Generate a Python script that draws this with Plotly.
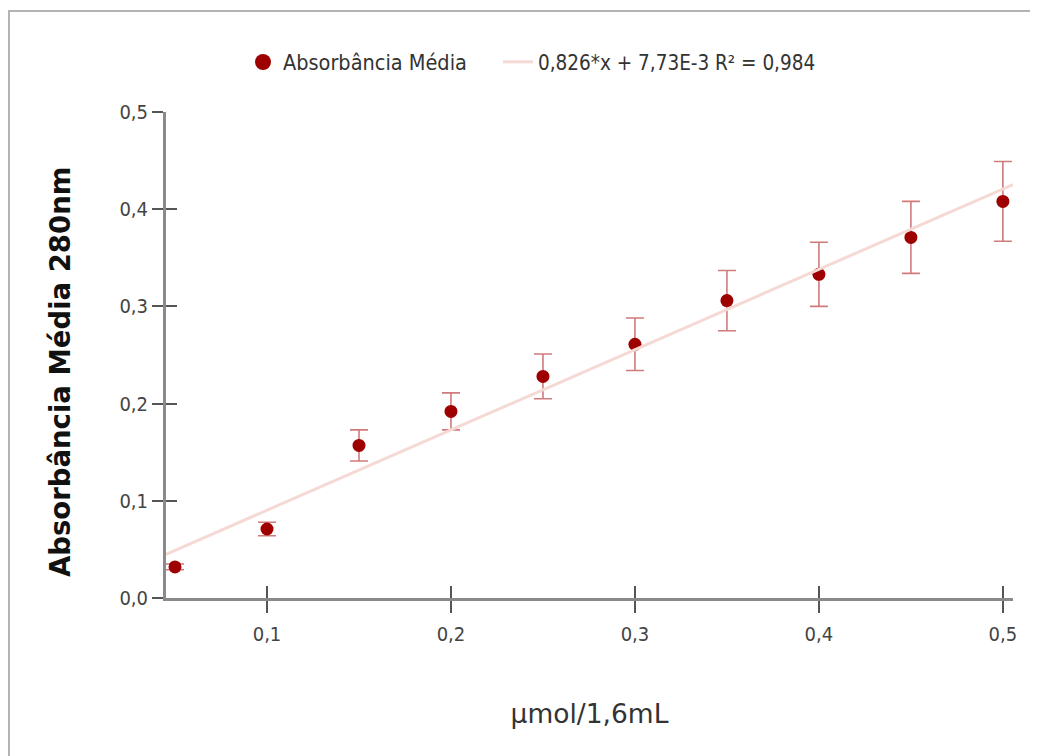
import plotly.graph_objects as go

# Data
conc = [0.05, 0.10, 0.15, 0.20, 0.25, 0.30, 0.35, 0.40, 0.45, 0.50]
absorb = [0.032, 0.071, 0.157, 0.192, 0.228, 0.261, 0.306, 0.333, 0.371, 0.408]
err = [0.003, 0.007, 0.016, 0.019, 0.023, 0.027, 0.031, 0.033, 0.037, 0.041]

slope = 0.826
intercept = 7.73e-3
fit_label = "0,826*x + 7,73E-3 R² = 0,984"
series_label = "Absorbância Média"

x_tickvals = [0.1, 0.2, 0.3, 0.4, 0.5]
y_tickvals = [0.0, 0.1, 0.2, 0.3, 0.4, 0.5]

xr = [0.0451, 0.5055]
yr = [0.0, 0.5]

fit_x = [xr[0], xr[1]]
fit_y = [slope * v + intercept for v in fit_x]

COND = "DejaVu Sans Condensed, Liberation Sans Narrow, sans-serif"
REG = "DejaVu Sans, sans-serif"
MARKER_RED = "#9e0000"

fig = go.Figure()
fig.add_trace(go.Scatter(
    x=conc, y=absorb, mode="markers", name=series_label, showlegend=False,
    marker=dict(color=MARKER_RED, size=13),
    error_y=dict(type="data", array=err, visible=True, color="#cf7b7b",
                 thickness=1.6, width=9),
))
# legend entry for the series (larger legend symbol, draws nothing)
fig.add_trace(go.Scatter(
    x=[None], y=[None], mode="markers", name=series_label, legend="legend",
    marker=dict(color=MARKER_RED, size=17),
))
fig.add_trace(go.Scatter(
    x=fit_x, y=fit_y, mode="lines", name=fit_label, legend="legend2",
    line=dict(color="#f5d9d4", width=3),
))
# invisible trace for the inner tick axes
fig.add_trace(go.Scatter(x=[conc[0]], y=[absorb[0]], xaxis="x2", yaxis="y2",
                         mode="markers", marker=dict(opacity=0), showlegend=False,
                         hoverinfo="skip"))

W, H = 1038, 756
L, R, T, B = 158, 33, 104, 166
pw = W - L - R
ph = H - T - B
pb = H - B  # plot bottom in figure px

def px_x(p):
    return (p - L) / pw

def px_y(p):
    return (pb - p) / ph

fig.update_layout(
    width=W, height=H,
    margin=dict(l=L, r=R, t=T, b=B),
    paper_bgcolor="white", plot_bgcolor="white",
    separators=",.",
    font=dict(family=COND, size=20, color="#444"),
    showlegend=True,
    legend=dict(orientation="h", x=px_x(235), xanchor="left",
                y=px_y(54), yanchor="middle",
                font=dict(family=COND, size=21.5, color="#333"),
                bgcolor="rgba(0,0,0,0)"),
    legend2=dict(orientation="h", x=px_x(490), xanchor="left",
                 y=px_y(54), yanchor="middle",
                 font=dict(family=COND, size=20.5, color="#333"),
                 bgcolor="rgba(0,0,0,0)"),
    xaxis=dict(range=xr, tickvals=x_tickvals, tickformat=".1f",
               showgrid=False, zeroline=False,
               showline=True, linecolor="#8a8a8a", linewidth=3,
               ticks="outside", ticklen=12, tickwidth=1.5, tickcolor="#555",
               ticklabelstandoff=4,
               tickfont=dict(family=COND, size=20, color="#444"),
               title=dict(text="µmol/1,6mL", standoff=60,
                          font=dict(family=REG, size=26.5, color="#333"))),
    yaxis=dict(range=yr, tickvals=y_tickvals, tickformat=".1f",
               showgrid=False, zeroline=False,
               showline=True, linecolor="#8a8a8a", linewidth=3,
               ticks="outside", ticklen=11, tickwidth=1.5, tickcolor="#555",
               tickfont=dict(family=COND, size=20, color="#444")),
    xaxis2=dict(overlaying="x", matches="x", anchor="y2", tickvals=x_tickvals,
                showticklabels=False, showgrid=False, zeroline=False, showline=False,
                ticks="inside", ticklen=12, tickwidth=1.5, tickcolor="#555"),
    yaxis2=dict(overlaying="y", matches="y", anchor="x2", tickvals=y_tickvals,
                showticklabels=False, showgrid=False, zeroline=False, showline=False,
                ticks="inside", ticklen=11, tickwidth=1.5, tickcolor="#555"),
    annotations=[dict(text="<b>Absorbância Média 280nm</b>", textangle=-90,
                      xref="paper", yref="paper", x=px_x(52), y=px_y(364),
                      xanchor="center", yanchor="middle", showarrow=False,
                      font=dict(family=REG, size=27.5, color="#111"))],
    shapes=[dict(type="rect", xref="paper", yref="paper",
                 x0=px_x(1), x1=px_x(1100),
                 y0=px_y(800), y1=px_y(3),
                 line=dict(color="#b3b3b3", width=2), fillcolor="rgba(0,0,0,0)",
                 layer="below")],
)

fig.write_html("out.html")
